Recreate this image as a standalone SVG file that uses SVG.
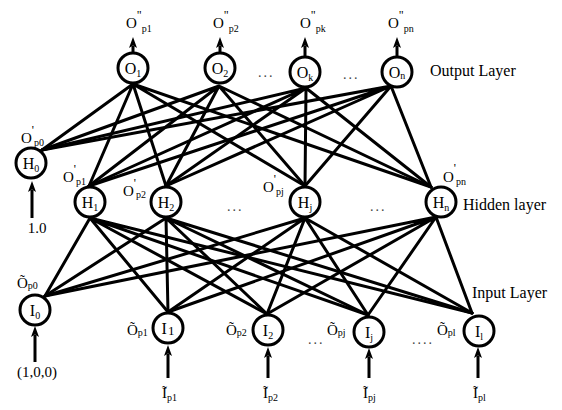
<svg xmlns="http://www.w3.org/2000/svg" width="562" height="410" viewBox="0 0 562 410">
<defs>
<marker id="ah" markerUnits="userSpaceOnUse" markerWidth="11" markerHeight="9" viewBox="0 0 11 9" refX="2" refY="4.5" orient="auto">
<path d="M0,0.5 L11,4.5 L0,8.5 L2.5,4.5 Z" fill="#000"/>
</marker>
<style>
.c{fill:#fff;stroke:#000;stroke-width:3}
.ln{stroke:#000;stroke-width:3;stroke-linecap:round;fill:none}
.ar{stroke:#000;stroke-width:3;fill:none}
text{font-family:"Liberation Serif","Times New Roman",serif;fill:#000}
.nl{font-size:16px;text-anchor:middle}
.lb{font-size:15px}
.sb{font-size:10px}
.mk{font-size:12px}
.ly{font-size:16px}
.dt{font-size:14px;letter-spacing:2px;fill:#444}
</style>
</defs>
<rect width="562" height="410" fill="#fff"/>
<g id="connectors">
<path class="ln" d="M133,84 L42,150 M133,84 L89,186 M133,84 L166,186 M133,84 L305,186 M133,84 L431,187"/>
<path class="ln" d="M219,86 L42,150 M219,86 L89,186 M219,86 L166,186 M219,86 L305,186 M219,86 L431,187"/>
<path class="ln" d="M306,88 L42,150 M306,88 L89,186 M306,88 L166,186 M306,88 L305,186 M306,88 L431,187"/>
<path class="ln" d="M391,86 L42,150 M391,86 L89,186 M391,86 L166,186 M391,86 L305,186 M391,86 L431,187"/>
<path class="ln" d="M90,218 L45,296 M90,218 L168,312 M90,218 L267,314 M90,218 L368,315 M90,218 L472,313"/>
<path class="ln" d="M166,218 L45,296 M166,218 L168,312 M166,218 L267,314 M166,218 L368,315 M166,218 L472,313"/>
<path class="ln" d="M305,218 L45,296 M305,218 L168,312 M305,218 L267,314 M305,218 L368,315 M305,218 L472,313"/>
<path class="ln" d="M436,217 L45,296 M436,217 L168,312 M436,217 L267,314 M436,217 L368,315 M436,217 L472,313"/>
<path class="ar" d="M133,53 L133,46" marker-end="url(#ah)"/>
<path class="ar" d="M220,53 L220,46" marker-end="url(#ah)"/>
<path class="ar" d="M305,57 L305,46" marker-end="url(#ah)"/>
<path class="ar" d="M397,57 L397,46" marker-end="url(#ah)"/>
<path class="ar" d="M32,218 L32,190" marker-end="url(#ah)"/>
<path class="ar" d="M35,362 L35,335" marker-end="url(#ah)"/>
<path class="ar" d="M168,378 L168,354" marker-end="url(#ah)"/>
<path class="ar" d="M268,378 L268,356" marker-end="url(#ah)"/>
<path class="ar" d="M369,378 L369,357" marker-end="url(#ah)"/>
<path class="ar" d="M478,378 L478,356" marker-end="url(#ah)"/>
</g>

<g id="O1"><circle class="c" cx="133" cy="68" r="15"/><text class="nl" x="133" y="74">O<tspan class="sb" dy="3">1</tspan></text>
<text class="lb" x="126" y="28">O<tspan class="mk" dy="-9">"</tspan><tspan class="sb" dy="13">p1</tspan></text></g>
<g id="O2"><circle class="c" cx="220" cy="68" r="15"/><text class="nl" x="220" y="74">O<tspan class="sb" dy="3">2</tspan></text>
<text class="lb" x="213" y="28">O<tspan class="mk" dy="-9">"</tspan><tspan class="sb" dy="13">p2</tspan></text></g>
<g id="Ok"><circle class="c" cx="305" cy="72" r="15"/><text class="nl" x="305" y="78">O<tspan class="sb" dy="3">k</tspan></text>
<text class="lb" x="300" y="28">O<tspan class="mk" dy="-9">"</tspan><tspan class="sb" dy="13">pk</tspan></text></g>
<g id="On"><circle class="c" cx="397" cy="72" r="15"/><text class="nl" x="397" y="78">O<tspan class="sb" dy="1">n</tspan></text>
<text class="lb" x="388" y="28">O<tspan class="mk" dy="-9">"</tspan><tspan class="sb" dy="13">pn</tspan></text></g>

<g id="H0"><circle class="c" cx="31" cy="163" r="15"/><text class="nl" x="31" y="169">H<tspan class="sb" dy="3">0</tspan></text>
<text class="lb" x="21" y="143">O<tspan class="mk" dy="-9">'</tspan><tspan class="sb" dy="12">p0</tspan></text>
<text x="37" y="233" font-family="Liberation Sans, Arial, sans-serif" font-size="15" text-anchor="middle">1.0</text></g>
<g id="H1"><circle class="c" cx="90" cy="202" r="15"/><text class="nl" x="90" y="208">H<tspan class="sb" dy="3">1</tspan></text>
<text class="lb" x="63" y="182">O<tspan class="mk" dy="-9">'</tspan><tspan class="sb" dy="12">p1</tspan></text></g>
<g id="H2"><circle class="c" cx="166" cy="202" r="15"/><text class="nl" x="166" y="208">H<tspan class="sb" dy="3">2</tspan></text>
<text class="lb" x="123" y="196">O<tspan class="mk" dy="-9">'</tspan><tspan class="sb" dy="11">p2</tspan></text></g>
<g id="Hj"><circle class="c" cx="305" cy="202" r="15"/><text class="nl" x="305" y="208">H<tspan class="sb" dy="3">j</tspan></text>
<text class="lb" x="263" y="192">O<tspan class="mk" dy="-9">'</tspan><tspan class="sb" dy="12">pj</tspan></text></g>
<g id="Hn"><circle class="c" cx="441" cy="202" r="15"/><text class="nl" x="441" y="208">H<tspan class="sb" dy="3">n</tspan></text>
<text class="lb" x="443" y="182">O<tspan class="mk" dy="-10">'</tspan><tspan class="sb" dy="13">pn</tspan></text></g>

<g id="I0"><circle class="c" cx="35" cy="310" r="15"/><text class="nl" x="35" y="316">I<tspan class="sb" dy="3">0</tspan></text>
<text class="lb" x="17" y="288">Õ<tspan class="sb" dy="1">p0</tspan></text>
<text class="lb" x="37" y="377" text-anchor="middle">(1,0,0)</text></g>
<g id="I1"><circle class="c" cx="168" cy="328" r="15"/><text class="nl" x="168" y="334">I<tspan dx="1" font-size="13" dy="1">1</tspan></text>
<text class="lb" x="127" y="335">Õ<tspan class="sb" dy="1">p1</tspan></text>
<text class="lb" x="162" y="398">Ĩ<tspan class="sb" dy="3">p1</tspan></text></g>
<g id="I2"><circle class="c" cx="268" cy="330" r="15"/><text class="nl" x="268" y="336">I<tspan class="sb" dy="3">2</tspan></text>
<text class="lb" x="226" y="335">Õ<tspan class="sb" dy="1">p2</tspan></text>
<text class="lb" x="263" y="398">Ĩ<tspan class="sb" dy="3">p2</tspan></text></g>
<g id="Ij"><circle class="c" cx="369" cy="332" r="15"/><text class="nl" x="369" y="338">I<tspan class="sb" dy="3">j</tspan></text>
<text class="lb" x="327" y="335">Õ<tspan class="sb" dy="1">pj</tspan></text>
<text class="lb" x="363" y="398">Ĩ<tspan class="sb" dy="3">pj</tspan></text></g>
<g id="Il"><circle class="c" cx="479" cy="331" r="15"/><text class="nl" x="479" y="337">I<tspan class="sb" dy="3">l</tspan></text>
<text class="lb" x="437" y="335">Õ<tspan class="sb" dy="1">pl</tspan></text>
<text class="lb" x="473" y="398">Ĩ<tspan class="sb" dy="3">pl</tspan></text></g>

<g id="labels">
<text class="ly" x="430" y="76">Output Layer</text>
<text class="ly" x="463" y="210">Hidden layer</text>
<text class="ly" x="472" y="298">Input Layer</text>
<text class="dt" x="258" y="77">...</text>
<text class="dt" x="343" y="79">...</text>
<text class="dt" x="227" y="211">...</text>
<text class="dt" x="370" y="211">...</text>
<text class="dt" x="308" y="344">...</text>
<text class="dt" x="412" y="344">....</text>
</g>
</svg>
